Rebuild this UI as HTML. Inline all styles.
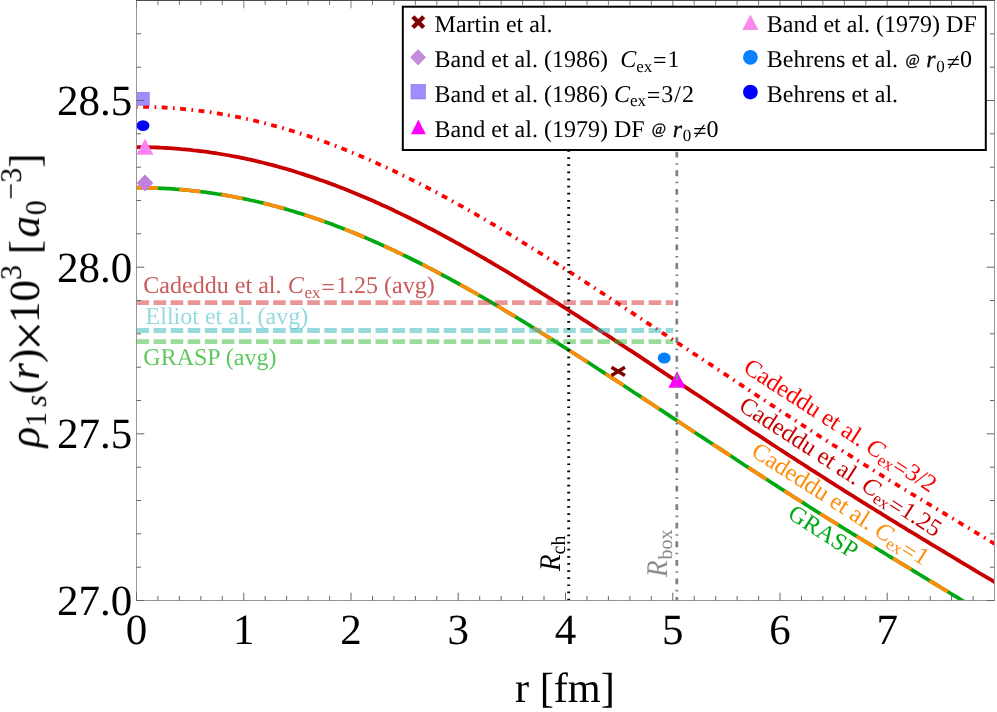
<!DOCTYPE html>
<html><head><meta charset="utf-8"><title>plot</title>
<style>
html,body{margin:0;padding:0;background:#fff;}
svg{display:block;}
text{font-family:"Liberation Serif",serif;text-rendering:geometricPrecision;}
.it{font-style:italic;}
</style></head><body>
<svg width="997" height="712" viewBox="0 0 997 712">
<rect x="0" y="0" width="997" height="712" fill="#fff"/>
<g style="will-change:transform">
<defs><clipPath id="cp"><rect x="136.5" y="0.5" width="858" height="600"/></clipPath></defs>

<text x="143.3" y="293.4" font-size="24.05" fill="#C85A5A">Cadeddu et al. <tspan class="it" dx="0.2">C</tspan><tspan font-size="17" dy="4.5" dx="0.6">ex</tspan><tspan dy="-2.9" dx="0.8">=</tspan><tspan dy="-1.6" dx="1.2">1.25</tspan><tspan dx="0"> (avg)</tspan></text>
<text x="145.6" y="323.6" font-size="24" fill="#96DADE">Elliot et al. (avg)</text>
<text x="143.3" y="365.2" font-size="24" fill="#5FC85F">GRASP (avg)</text>
<g clip-path="url(#cp)" fill="none">
<path d="M136.5 187.7 L139.5 187.7 L142.5 187.7 L145.5 187.8 L148.5 187.8 L151.5 187.9 L154.5 188.0 L157.5 188.1 L160.5 188.3 L163.5 188.4 L166.5 188.6 L169.5 188.7 L172.5 188.9 L175.5 189.2 L178.5 189.4 L181.5 189.6 L184.5 189.9 L187.5 190.2 L190.5 190.5 L193.5 190.8 L196.5 191.1 L199.5 191.5 L202.5 191.9 L205.5 192.2 L208.5 192.7 L211.5 193.1 L214.5 193.5 L217.5 194.0 L220.5 194.4 L223.5 194.9 L226.5 195.4 L229.5 196.0 L232.5 196.5 L235.5 197.1 L238.5 197.7 L241.5 198.3 L244.5 198.9 L247.5 199.5 L250.5 200.2 L253.5 200.8 L256.5 201.5 L259.5 202.2 L262.5 202.9 L265.5 203.7 L268.5 204.4 L271.5 205.2 L274.5 206.0 L277.5 206.8 L280.5 207.6 L283.5 208.4 L286.5 209.3 L289.5 210.2 L292.5 211.0 L295.5 211.9 L298.5 212.9 L301.5 213.8 L304.5 214.8 L307.5 215.7 L310.5 216.7 L313.5 217.7 L316.5 218.8 L319.5 219.8 L322.5 220.9 L325.5 221.9 L328.5 223.0 L331.5 224.1 L334.5 225.3 L337.5 226.4 L340.5 227.5 L343.5 228.7 L346.5 229.9 L349.5 231.1 L352.5 232.3 L355.5 233.5 L358.5 234.8 L361.5 236.0 L364.5 237.3 L367.5 238.6 L370.5 239.9 L373.5 241.2 L376.5 242.5 L379.5 243.9 L382.5 245.2 L385.5 246.6 L388.5 248.0 L391.5 249.4 L394.5 250.8 L397.5 252.2 L400.5 253.6 L403.5 255.1 L406.5 256.5 L409.5 258.0 L412.5 259.5 L415.5 261.0 L418.5 262.5 L421.5 264.0 L424.5 265.5 L427.5 267.1 L430.5 268.6 L433.5 270.2 L436.5 271.8 L439.5 273.4 L442.5 275.0 L445.5 276.6 L448.5 278.2 L451.5 279.9 L454.5 281.5 L457.5 283.1 L460.5 284.8 L463.5 286.5 L466.5 288.1 L469.5 289.8 L472.5 291.5 L475.5 293.2 L478.5 295.0 L481.5 296.7 L484.5 298.4 L487.5 300.2 L490.5 301.9 L493.5 303.7 L496.5 305.4 L499.5 307.2 L502.5 309.0 L505.5 310.8 L508.5 312.6 L511.5 314.4 L514.5 316.2 L517.5 318.0 L520.5 319.9 L523.5 321.7 L526.5 323.5 L529.5 325.4 L532.5 327.3 L535.5 329.1 L538.5 331.0 L541.5 332.9 L544.5 334.7 L547.5 336.6 L550.5 338.5 L553.5 340.4 L556.5 342.3 L559.5 344.2 L562.5 346.1 L565.5 348.0 L568.5 349.9 L571.5 351.8 L574.5 353.7 L577.5 355.6 L580.5 357.5 L583.5 359.5 L586.5 361.4 L589.5 363.3 L592.5 365.3 L595.5 367.2 L598.5 369.2 L601.5 371.1 L604.5 373.1 L607.5 375.0 L610.5 377.0 L613.5 378.9 L616.5 380.9 L619.5 382.8 L622.5 384.8 L625.5 386.8 L628.5 388.7 L631.5 390.7 L634.5 392.7 L637.5 394.6 L640.5 396.6 L643.5 398.6 L646.5 400.6 L649.5 402.5 L652.5 404.5 L655.5 406.5 L658.5 408.5 L661.5 410.4 L664.5 412.4 L667.5 414.4 L670.5 416.4 L673.5 418.4 L676.5 420.3 L679.5 422.3 L682.5 424.3 L685.5 426.3 L688.5 428.2 L691.5 430.2 L694.5 432.2 L697.5 434.2 L700.5 436.1 L703.5 438.1 L706.5 440.1 L709.5 442.0 L712.5 444.0 L715.5 446.0 L718.5 447.9 L721.5 449.9 L724.5 451.9 L727.5 453.9 L730.5 455.8 L733.5 457.8 L736.5 459.8 L739.5 461.7 L742.5 463.7 L745.5 465.7 L748.5 467.6 L751.5 469.6 L754.5 471.5 L757.5 473.5 L760.5 475.4 L763.5 477.4 L766.5 479.3 L769.5 481.3 L772.5 483.2 L775.5 485.1 L778.5 487.1 L781.5 489.0 L784.5 490.9 L787.5 492.9 L790.5 494.8 L793.5 496.7 L796.5 498.6 L799.5 500.5 L802.5 502.4 L805.5 504.4 L808.5 506.3 L811.5 508.2 L814.5 510.1 L817.5 512.0 L820.5 513.9 L823.5 515.7 L826.5 517.6 L829.5 519.5 L832.5 521.3 L835.5 523.2 L838.5 525.0 L841.5 526.9 L844.5 528.8 L847.5 530.6 L850.5 532.5 L853.5 534.3 L856.5 536.1 L859.5 538.0 L862.5 539.8 L865.5 541.7 L868.5 543.5 L871.5 545.3 L874.5 547.2 L877.5 549.0 L880.5 550.8 L883.5 552.6 L886.5 554.5 L889.5 556.3 L892.5 558.1 L895.5 559.9 L898.5 561.8 L901.5 563.6 L904.5 565.4 L907.5 567.2 L910.5 569.0 L913.5 570.9 L916.5 572.7 L919.5 574.5 L922.5 576.3 L925.5 578.1 L928.5 580.0 L931.5 581.8 L934.5 583.6 L937.5 585.4 L940.5 587.2 L943.5 589.1 L946.5 590.9 L949.5 592.7 L952.5 594.6 L955.5 596.4 L958.5 598.2 L961.5 600.0 L964.5 601.9 L967.5 603.7 L970.0 605.3" stroke="#00A814" stroke-width="3.7"/>
<path d="M136.5 187.7 L139.5 187.7 L142.5 187.7 L145.5 187.8 L148.5 187.8 L151.5 187.9 L154.5 188.0 L157.5 188.1 L160.5 188.3 L163.5 188.4 L166.5 188.6 L169.5 188.7 L172.5 188.9 L175.5 189.2 L178.5 189.4 L181.5 189.6 L184.5 189.9 L187.5 190.2 L190.5 190.5 L193.5 190.8 L196.5 191.1 L199.5 191.5 L202.5 191.9 L205.5 192.2 L208.5 192.7 L211.5 193.1 L214.5 193.5 L217.5 194.0 L220.5 194.4 L223.5 194.9 L226.5 195.4 L229.5 196.0 L232.5 196.5 L235.5 197.1 L238.5 197.7 L241.5 198.3 L244.5 198.9 L247.5 199.5 L250.5 200.2 L253.5 200.8 L256.5 201.5 L259.5 202.2 L262.5 202.9 L265.5 203.7 L268.5 204.4 L271.5 205.2 L274.5 206.0 L277.5 206.8 L280.5 207.6 L283.5 208.4 L286.5 209.3 L289.5 210.2 L292.5 211.0 L295.5 211.9 L298.5 212.9 L301.5 213.8 L304.5 214.8 L307.5 215.7 L310.5 216.7 L313.5 217.7 L316.5 218.8 L319.5 219.8 L322.5 220.9 L325.5 221.9 L328.5 223.0 L331.5 224.1 L334.5 225.3 L337.5 226.4 L340.5 227.5 L343.5 228.7 L346.5 229.9 L349.5 231.1 L352.5 232.3 L355.5 233.5 L358.5 234.8 L361.5 236.0 L364.5 237.3 L367.5 238.6 L370.5 239.9 L373.5 241.2 L376.5 242.5 L379.5 243.9 L382.5 245.2 L385.5 246.6 L388.5 248.0 L391.5 249.4 L394.5 250.8 L397.5 252.2 L400.5 253.6 L403.5 255.1 L406.5 256.5 L409.5 258.0 L412.5 259.5 L415.5 261.0 L418.5 262.5 L421.5 264.0 L424.5 265.5 L427.5 267.1 L430.5 268.6 L433.5 270.2 L436.5 271.8 L439.5 273.4 L442.5 275.0 L445.5 276.6 L448.5 278.2 L451.5 279.9 L454.5 281.5 L457.5 283.1 L460.5 284.8 L463.5 286.5 L466.5 288.1 L469.5 289.8 L472.5 291.5 L475.5 293.2 L478.5 295.0 L481.5 296.7 L484.5 298.4 L487.5 300.2 L490.5 301.9 L493.5 303.7 L496.5 305.4 L499.5 307.2 L502.5 309.0 L505.5 310.8 L508.5 312.6 L511.5 314.4 L514.5 316.2 L517.5 318.0 L520.5 319.9 L523.5 321.7 L526.5 323.5 L529.5 325.4 L532.5 327.3 L535.5 329.1 L538.5 331.0 L541.5 332.9 L544.5 334.7 L547.5 336.6 L550.5 338.5 L553.5 340.4 L556.5 342.3 L559.5 344.2 L562.5 346.1 L565.5 348.0 L568.5 349.9 L571.5 351.8 L574.5 353.7 L577.5 355.6 L580.5 357.5 L583.5 359.5 L586.5 361.4 L589.5 363.3 L592.5 365.3 L595.5 367.2 L598.5 369.2 L601.5 371.1 L604.5 373.1 L607.5 375.0 L610.5 377.0 L613.5 378.9 L616.5 380.9 L619.5 382.8 L622.5 384.8 L625.5 386.8 L628.5 388.7 L631.5 390.7 L634.5 392.7 L637.5 394.6 L640.5 396.6 L643.5 398.6 L646.5 400.6 L649.5 402.5 L652.5 404.5 L655.5 406.5 L658.5 408.5 L661.5 410.4 L664.5 412.4 L667.5 414.4 L670.5 416.4 L673.5 418.4 L676.5 420.3 L679.5 422.3 L682.5 424.3 L685.5 426.3 L688.5 428.2 L691.5 430.2 L694.5 432.2 L697.5 434.2 L700.5 436.1 L703.5 438.1 L706.5 440.1 L709.5 442.0 L712.5 444.0 L715.5 446.0 L718.5 447.9 L721.5 449.9 L724.5 451.9 L727.5 453.9 L730.5 455.8 L733.5 457.8 L736.5 459.8 L739.5 461.7 L742.5 463.7 L745.5 465.7 L748.5 467.6 L751.5 469.6 L754.5 471.5 L757.5 473.5 L760.5 475.4 L763.5 477.4 L766.5 479.3 L769.5 481.3 L772.5 483.2 L775.5 485.1 L778.5 487.1 L781.5 489.0 L784.5 490.9 L787.5 492.9 L790.5 494.8 L793.5 496.7 L796.5 498.6 L799.5 500.5 L802.5 502.4 L805.5 504.4 L808.5 506.3 L811.5 508.2 L814.5 510.1 L817.5 512.0 L820.5 513.9 L823.5 515.7 L826.5 517.6 L829.5 519.5 L832.5 521.3 L835.5 523.2 L838.5 525.0 L841.5 526.9 L844.5 528.8 L847.5 530.6 L850.5 532.5 L853.5 534.3 L856.5 536.1 L859.5 538.0 L862.5 539.8 L865.5 541.7 L868.5 543.5 L871.5 545.3 L874.5 547.2 L877.5 549.0 L880.5 550.8 L883.5 552.6 L886.5 554.5 L889.5 556.3 L892.5 558.1 L895.5 559.9 L898.5 561.8 L901.5 563.6 L904.5 565.4 L907.5 567.2 L910.5 569.0 L913.5 570.9 L916.5 572.7 L919.5 574.5 L922.5 576.3 L925.5 578.1 L928.5 580.0 L931.5 581.8 L934.5 583.6 L937.5 585.4 L940.5 587.2 L943.5 589.1 L946.5 590.9 L949.5 592.7 L952.5 594.6 L955.5 596.4 L958.5 598.2 L961.5 600.0 L964.5 601.9 L967.5 603.7 L970.0 605.3" stroke="#FF8C0A" stroke-width="3.7" stroke-dasharray="21.35 21.35"/>
<path d="M136.5 147.1 L139.5 147.1 L142.5 147.1 L145.5 147.2 L148.5 147.2 L151.5 147.3 L154.5 147.4 L157.5 147.5 L160.5 147.7 L163.5 147.8 L166.5 148.0 L169.5 148.2 L172.5 148.4 L175.5 148.6 L178.5 148.8 L181.5 149.1 L184.5 149.3 L187.5 149.6 L190.5 149.9 L193.5 150.3 L196.5 150.6 L199.5 151.0 L202.5 151.3 L205.5 151.7 L208.5 152.1 L211.5 152.6 L214.5 153.0 L217.5 153.5 L220.5 154.0 L223.5 154.5 L226.5 155.0 L229.5 155.5 L232.5 156.1 L235.5 156.6 L238.5 157.2 L241.5 157.8 L244.5 158.4 L247.5 159.1 L250.5 159.7 L253.5 160.4 L256.5 161.1 L259.5 161.8 L262.5 162.5 L265.5 163.3 L268.5 164.1 L271.5 164.8 L274.5 165.6 L277.5 166.5 L280.5 167.3 L283.5 168.2 L286.5 169.0 L289.5 169.9 L292.5 170.8 L295.5 171.7 L298.5 172.7 L301.5 173.6 L304.5 174.6 L307.5 175.6 L310.5 176.6 L313.5 177.6 L316.5 178.6 L319.5 179.7 L322.5 180.7 L325.5 181.8 L328.5 182.9 L331.5 184.0 L334.5 185.1 L337.5 186.3 L340.5 187.4 L343.5 188.6 L346.5 189.8 L349.5 191.0 L352.5 192.2 L355.5 193.4 L358.5 194.7 L361.5 195.9 L364.5 197.2 L367.5 198.5 L370.5 199.8 L373.5 201.1 L376.5 202.5 L379.5 203.8 L382.5 205.2 L385.5 206.5 L388.5 207.9 L391.5 209.3 L394.5 210.8 L397.5 212.2 L400.5 213.6 L403.5 215.1 L406.5 216.5 L409.5 218.0 L412.5 219.5 L415.5 221.0 L418.5 222.5 L421.5 224.1 L424.5 225.6 L427.5 227.2 L430.5 228.7 L433.5 230.3 L436.5 231.9 L439.5 233.5 L442.5 235.1 L445.5 236.7 L448.5 238.3 L451.5 240.0 L454.5 241.6 L457.5 243.3 L460.5 244.9 L463.5 246.6 L466.5 248.3 L469.5 250.0 L472.5 251.7 L475.5 253.4 L478.5 255.1 L481.5 256.8 L484.5 258.5 L487.5 260.3 L490.5 262.0 L493.5 263.8 L496.5 265.6 L499.5 267.4 L502.5 269.1 L505.5 270.9 L508.5 272.7 L511.5 274.5 L514.5 276.4 L517.5 278.2 L520.5 280.0 L523.5 281.9 L526.5 283.7 L529.5 285.6 L532.5 287.4 L535.5 289.3 L538.5 291.2 L541.5 293.1 L544.5 294.9 L547.5 296.8 L550.5 298.7 L553.5 300.6 L556.5 302.5 L559.5 304.4 L562.5 306.3 L565.5 308.2 L568.5 310.1 L571.5 312.1 L574.5 314.0 L577.5 315.9 L580.5 317.8 L583.5 319.8 L586.5 321.7 L589.5 323.7 L592.5 325.6 L595.5 327.6 L598.5 329.5 L601.5 331.5 L604.5 333.5 L607.5 335.4 L610.5 337.4 L613.5 339.4 L616.5 341.3 L619.5 343.3 L622.5 345.3 L625.5 347.3 L628.5 349.3 L631.5 351.2 L634.5 353.2 L637.5 355.2 L640.5 357.2 L643.5 359.2 L646.5 361.2 L649.5 363.2 L652.5 365.2 L655.5 367.2 L658.5 369.2 L661.5 371.1 L664.5 373.1 L667.5 375.1 L670.5 377.1 L673.5 379.1 L676.5 381.1 L679.5 383.1 L682.5 385.1 L685.5 387.1 L688.5 389.1 L691.5 391.1 L694.5 393.1 L697.5 395.0 L700.5 397.0 L703.5 399.0 L706.5 401.0 L709.5 403.0 L712.5 405.0 L715.5 407.0 L718.5 408.9 L721.5 410.9 L724.5 412.9 L727.5 414.9 L730.5 416.9 L733.5 418.9 L736.5 420.9 L739.5 422.9 L742.5 424.9 L745.5 426.8 L748.5 428.8 L751.5 430.8 L754.5 432.8 L757.5 434.7 L760.5 436.7 L763.5 438.7 L766.5 440.7 L769.5 442.6 L772.5 444.6 L775.5 446.5 L778.5 448.5 L781.5 450.4 L784.5 452.4 L787.5 454.3 L790.5 456.3 L793.5 458.2 L796.5 460.2 L799.5 462.1 L802.5 464.0 L805.5 465.9 L808.5 467.9 L811.5 469.8 L814.5 471.7 L817.5 473.6 L820.5 475.5 L823.5 477.4 L826.5 479.4 L829.5 481.3 L832.5 483.2 L835.5 485.1 L838.5 487.0 L841.5 488.9 L844.5 490.8 L847.5 492.7 L850.5 494.5 L853.5 496.4 L856.5 498.3 L859.5 500.2 L862.5 502.1 L865.5 503.9 L868.5 505.8 L871.5 507.6 L874.5 509.5 L877.5 511.4 L880.5 513.2 L883.5 515.1 L886.5 516.9 L889.5 518.8 L892.5 520.6 L895.5 522.4 L898.5 524.3 L901.5 526.1 L904.5 527.9 L907.5 529.8 L910.5 531.6 L913.5 533.4 L916.5 535.2 L919.5 537.0 L922.5 538.9 L925.5 540.7 L928.5 542.5 L931.5 544.3 L934.5 546.1 L937.5 547.9 L940.5 549.7 L943.5 551.5 L946.5 553.3 L949.5 555.1 L952.5 556.9 L955.5 558.7 L958.5 560.5 L961.5 562.3 L964.5 564.1 L967.5 565.9 L970.5 567.7 L973.5 569.5 L976.5 571.3 L979.5 573.1 L982.5 574.8 L985.5 576.6 L988.5 578.4 L991.5 580.2 L994.5 582.0" stroke="#C80000" stroke-width="3.8"/>
<path d="M136.5 106.8 L139.5 106.8 L142.5 106.8 L145.5 106.9 L148.5 106.9 L151.5 107.0 L154.5 107.1 L157.5 107.2 L160.5 107.4 L163.5 107.5 L166.5 107.7 L169.5 107.9 L172.5 108.1 L175.5 108.3 L178.5 108.6 L181.5 108.8 L184.5 109.1 L187.5 109.4 L190.5 109.7 L193.5 110.1 L196.5 110.4 L199.5 110.8 L202.5 111.2 L205.5 111.6 L208.5 112.0 L211.5 112.4 L214.5 112.9 L217.5 113.4 L220.5 113.9 L223.5 114.4 L226.5 114.9 L229.5 115.5 L232.5 116.0 L235.5 116.6 L238.5 117.2 L241.5 117.8 L244.5 118.5 L247.5 119.1 L250.5 119.8 L253.5 120.5 L256.5 121.2 L259.5 121.9 L262.5 122.7 L265.5 123.4 L268.5 124.2 L271.5 125.0 L274.5 125.8 L277.5 126.6 L280.5 127.5 L283.5 128.3 L286.5 129.2 L289.5 130.1 L292.5 131.0 L295.5 132.0 L298.5 132.9 L301.5 133.9 L304.5 134.8 L307.5 135.8 L310.5 136.8 L313.5 137.9 L316.5 138.9 L319.5 140.0 L322.5 141.1 L325.5 142.1 L328.5 143.3 L331.5 144.4 L334.5 145.5 L337.5 146.7 L340.5 147.8 L343.5 149.0 L346.5 150.2 L349.5 151.4 L352.5 152.7 L355.5 153.9 L358.5 155.2 L361.5 156.4 L364.5 157.7 L367.5 159.0 L370.5 160.3 L373.5 161.7 L376.5 163.0 L379.5 164.4 L382.5 165.7 L385.5 167.1 L388.5 168.5 L391.5 169.9 L394.5 171.3 L397.5 172.8 L400.5 174.2 L403.5 175.7 L406.5 177.2 L409.5 178.6 L412.5 180.1 L415.5 181.6 L418.5 183.2 L421.5 184.7 L424.5 186.2 L427.5 187.8 L430.5 189.4 L433.5 190.9 L436.5 192.5 L439.5 194.1 L442.5 195.8 L445.5 197.4 L448.5 199.0 L451.5 200.7 L454.5 202.3 L457.5 204.0 L460.5 205.6 L463.5 207.3 L466.5 209.0 L469.5 210.7 L472.5 212.4 L475.5 214.1 L478.5 215.9 L481.5 217.6 L484.5 219.3 L487.5 221.1 L490.5 222.9 L493.5 224.6 L496.5 226.4 L499.5 228.2 L502.5 230.0 L505.5 231.8 L508.5 233.6 L511.5 235.4 L514.5 237.2 L517.5 239.1 L520.5 240.9 L523.5 242.8 L526.5 244.6 L529.5 246.5 L532.5 248.3 L535.5 250.2 L538.5 252.1 L541.5 254.0 L544.5 255.9 L547.5 257.8 L550.5 259.7 L553.5 261.6 L556.5 263.5 L559.5 265.4 L562.5 267.3 L565.5 269.2 L568.5 271.1 L571.5 273.1 L574.5 275.0 L577.5 276.9 L580.5 278.9 L583.5 280.8 L586.5 282.8 L589.5 284.7 L592.5 286.7 L595.5 288.6 L598.5 290.6 L601.5 292.6 L604.5 294.5 L607.5 296.5 L610.5 298.5 L613.5 300.5 L616.5 302.4 L619.5 304.4 L622.5 306.4 L625.5 308.4 L628.5 310.4 L631.5 312.4 L634.5 314.4 L637.5 316.4 L640.5 318.3 L643.5 320.3 L646.5 322.3 L649.5 324.3 L652.5 326.3 L655.5 328.3 L658.5 330.3 L661.5 332.3 L664.5 334.2 L667.5 336.2 L670.5 338.2 L673.5 340.2 L676.5 342.2 L679.5 344.1 L682.5 346.1 L685.5 348.1 L688.5 350.1 L691.5 352.1 L694.5 354.1 L697.5 356.0 L700.5 358.0 L703.5 360.0 L706.5 362.0 L709.5 363.9 L712.5 365.9 L715.5 367.9 L718.5 369.9 L721.5 371.8 L724.5 373.8 L727.5 375.8 L730.5 377.8 L733.5 379.8 L736.5 381.8 L739.5 383.8 L742.5 385.8 L745.5 387.8 L748.5 389.8 L751.5 391.8 L754.5 393.8 L757.5 395.8 L760.5 397.7 L763.5 399.7 L766.5 401.7 L769.5 403.7 L772.5 405.6 L775.5 407.6 L778.5 409.6 L781.5 411.5 L784.5 413.5 L787.5 415.4 L790.5 417.4 L793.5 419.3 L796.5 421.3 L799.5 423.2 L802.5 425.2 L805.5 427.1 L808.5 429.1 L811.5 431.0 L814.5 432.9 L817.5 434.9 L820.5 436.8 L823.5 438.7 L826.5 440.6 L829.5 442.6 L832.5 444.5 L835.5 446.4 L838.5 448.3 L841.5 450.2 L844.5 452.1 L847.5 454.0 L850.5 455.9 L853.5 457.8 L856.5 459.7 L859.5 461.6 L862.5 463.5 L865.5 465.4 L868.5 467.2 L871.5 469.1 L874.5 471.0 L877.5 472.9 L880.5 474.7 L883.5 476.6 L886.5 478.4 L889.5 480.3 L892.5 482.1 L895.5 483.9 L898.5 485.8 L901.5 487.6 L904.5 489.4 L907.5 491.2 L910.5 493.1 L913.5 494.9 L916.5 496.7 L919.5 498.5 L922.5 500.3 L925.5 502.1 L928.5 504.0 L931.5 505.8 L934.5 507.6 L937.5 509.4 L940.5 511.2 L943.5 513.0 L946.5 514.8 L949.5 516.6 L952.5 518.4 L955.5 520.2 L958.5 522.0 L961.5 523.9 L964.5 525.7 L967.5 527.5 L970.5 529.3 L973.5 531.1 L976.5 532.9 L979.5 534.7 L982.5 536.5 L985.5 538.3 L988.5 540.1 L991.5 542.0 L994.5 543.8" stroke="#FF0000" stroke-width="3.8" stroke-dasharray="1.7 5.46 5.9 5.46" stroke-dashoffset="0.5"/>
<line x1="136.5" y1="302.6" x2="673.2" y2="302.6" stroke="#D72D2D" stroke-opacity="0.5" stroke-width="4.9" stroke-dasharray="12.6 4.47"/>
<line x1="136.5" y1="330.5" x2="673.2" y2="330.5" stroke="#2DB5B9" stroke-opacity="0.5" stroke-width="4.9" stroke-dasharray="12.6 4.47"/>
<line x1="136.5" y1="341.6" x2="673.2" y2="341.6" stroke="#35B935" stroke-opacity="0.5" stroke-width="4.9" stroke-dasharray="12.6 4.47"/>
<line x1="568.7" y1="150.1" x2="568.7" y2="600.5" stroke="#000" stroke-width="2.9" stroke-dasharray="1.7 5.42"/>
</g>
<rect x="136.4" y="92.2" width="13" height="13.2" fill="#9A80FF" fill-opacity="0.92" stroke="#8A74E0" stroke-width="0.5"/>
<ellipse cx="143" cy="125.6" rx="6.4" ry="5.4" fill="#0000FF"/>
<path d="M145 138.8 L153.5 154.8 L136.5 154.8 Z" fill="#FF82F5"/>
<path d="M145 174.4 L153.3 183 L145 191.6 L136.7 183 Z" fill="#C280DC"/>
<g transform="translate(618.2,371.4)" stroke="#800000" stroke-width="3.4"><path d="M-6.7 -4.1 L6.7 4.1 M6.7 -4.1 L-6.7 4.1"/></g>
<ellipse cx="664.2" cy="358.1" rx="6.5" ry="5.5" fill="#0080FF"/>
<path d="M677 371.2 L685.6 387.8 L668.4 387.8 Z" fill="#FF00FF"/>
<line x1="676.8" y1="149.8" x2="676.8" y2="600.5" stroke="#808080" stroke-width="2.7" stroke-dasharray="5.8 5.57 1.6 5.58" stroke-dashoffset="-2"/>
<rect x="136.5" y="0.5" width="858" height="600" stroke="#969696" stroke-width="1" fill="none"/>
<g stroke="#666666" stroke-width="1" fill="none">
<path d="M136.5 600.5 v-7.8 M157.9 600.5 v-4.6 M179.4 600.5 v-4.6 M200.9 600.5 v-4.6 M222.3 600.5 v-4.6 M243.8 600.5 v-7.8 M265.2 600.5 v-4.6 M286.6 600.5 v-4.6 M308.1 600.5 v-4.6 M329.6 600.5 v-4.6 M351.0 600.5 v-7.8 M372.5 600.5 v-4.6 M393.9 600.5 v-4.6 M415.4 600.5 v-4.6 M436.8 600.5 v-4.6 M458.2 600.5 v-7.8 M479.7 600.5 v-4.6 M501.2 600.5 v-4.6 M522.6 600.5 v-4.6 M544.0 600.5 v-4.6 M565.5 600.5 v-7.8 M587.0 600.5 v-4.6 M608.4 600.5 v-4.6 M629.9 600.5 v-4.6 M651.3 600.5 v-4.6 M672.8 600.5 v-7.8 M694.2 600.5 v-4.6 M715.7 600.5 v-4.6 M737.1 600.5 v-4.6 M758.6 600.5 v-4.6 M780.0 600.5 v-7.8 M801.5 600.5 v-4.6 M822.9 600.5 v-4.6 M844.4 600.5 v-4.6 M865.8 600.5 v-4.6 M887.2 600.5 v-7.8 M908.7 600.5 v-4.6 M930.2 600.5 v-4.6 M951.6 600.5 v-4.6 M973.1 600.5 v-4.6 M136.5 600.5 h7.8 M994.5 600.5 h-7.8 M136.5 567.2 h4.6 M994.5 567.2 h-4.6 M136.5 533.8 h4.6 M994.5 533.8 h-4.6 M136.5 500.5 h4.6 M994.5 500.5 h-4.6 M136.5 467.2 h4.6 M994.5 467.2 h-4.6 M136.5 433.8 h7.8 M994.5 433.8 h-7.8 M136.5 400.5 h4.6 M994.5 400.5 h-4.6 M136.5 367.2 h4.6 M994.5 367.2 h-4.6 M136.5 333.8 h4.6 M994.5 333.8 h-4.6 M136.5 300.5 h4.6 M994.5 300.5 h-4.6 M136.5 267.2 h7.8 M994.5 267.2 h-7.8 M136.5 233.8 h4.6 M994.5 233.8 h-4.6 M136.5 200.5 h4.6 M994.5 200.5 h-4.6 M136.5 167.2 h4.6 M994.5 167.2 h-4.6 M136.5 133.8 h4.6 M994.5 133.8 h-4.6 M136.5 100.5 h7.8 M994.5 100.5 h-7.8 M136.5 67.2 h4.6 M994.5 67.2 h-4.6 M136.5 33.8 h4.6 M994.5 33.8 h-4.6"/>
<path d="M136.5 0.5 v7.8 M157.9 0.5 v4.6 M179.4 0.5 v4.6 M200.9 0.5 v4.6 M222.3 0.5 v4.6 M243.8 0.5 v7.8 M265.2 0.5 v4.6 M286.6 0.5 v4.6 M308.1 0.5 v4.6 M329.6 0.5 v4.6 M351.0 0.5 v7.8 M372.5 0.5 v4.6 M393.9 0.5 v4.6 M415.4 0.5 v4.6 M436.8 0.5 v4.6 M458.2 0.5 v7.8 M479.7 0.5 v4.6 M501.2 0.5 v4.6 M522.6 0.5 v4.6 M544.0 0.5 v4.6 M565.5 0.5 v7.8 M587.0 0.5 v4.6 M608.4 0.5 v4.6 M629.9 0.5 v4.6 M651.3 0.5 v4.6 M672.8 0.5 v7.8 M694.2 0.5 v4.6 M715.7 0.5 v4.6 M737.1 0.5 v4.6 M758.6 0.5 v4.6 M780.0 0.5 v7.8 M801.5 0.5 v4.6 M822.9 0.5 v4.6 M844.4 0.5 v4.6 M865.8 0.5 v4.6 M887.2 0.5 v7.8 M908.7 0.5 v4.6 M930.2 0.5 v4.6 M951.6 0.5 v4.6 M973.1 0.5 v4.6" stroke="#7c7c7c"/>
<path d="M136 0.5 H995" stroke="#4c4c4c"/>
</g>
<text x="132.2" y="615.1" font-size="43" text-anchor="end">27.0</text>
<text x="132.2" y="448.4" font-size="43" text-anchor="end">27.5</text>
<text x="132.2" y="281.8" font-size="43" text-anchor="end">28.0</text>
<text x="132.2" y="115.1" font-size="43" text-anchor="end">28.5</text>
<text x="136.5" y="643.8" font-size="43" text-anchor="middle">0</text>
<text x="243.8" y="643.8" font-size="43" text-anchor="middle">1</text>
<text x="351.0" y="643.8" font-size="43" text-anchor="middle">2</text>
<text x="458.2" y="643.8" font-size="43" text-anchor="middle">3</text>
<text x="565.5" y="643.8" font-size="43" text-anchor="middle">4</text>
<text x="672.8" y="643.8" font-size="43" text-anchor="middle">5</text>
<text x="780.0" y="643.8" font-size="43" text-anchor="middle">6</text>
<text x="887.2" y="643.8" font-size="43" text-anchor="middle">7</text>
<text x="515" y="702.3" font-size="42.3">r [fm]</text>
<text transform="translate(38.9,447.5) rotate(-90)" font-size="43"><tspan class="it">ρ</tspan><tspan font-size="30" dy="7">1</tspan><tspan font-size="30" class="it" dx="5">s</tspan><tspan dy="-7" dx="1">(</tspan><tspan class="it">r</tspan>)<tspan font-size="53" dy="7.5" dx="-2">×</tspan><tspan dy="-7.5" dx="-2">1</tspan>0<tspan font-size="30" dy="-18">3</tspan><tspan dy="18"> [</tspan><tspan class="it" dx="2.4">a</tspan><tspan font-size="30" dy="7" dx="0.6">0</tspan><tspan font-size="30" dy="-25" dx="0.6">−3</tspan><tspan dy="18" dx="0">]</tspan></text>
<g transform="translate(560.2,571.1) rotate(-90)"><text class="it" font-size="30" transform="scale(0.9,1)">R</text><text x="16.7" y="4.5" font-size="20">ch</text></g>
<g transform="translate(667,577.1) rotate(-90)" fill="#8c8c8c"><text class="it" font-size="30" transform="scale(0.9,1)">R</text><text x="17.6" y="5" font-size="20">box</text></g>
<text transform="translate(741.9,370.9) rotate(33.0)" font-size="24.4" fill="#FF0000">Cadeddu et al. <tspan class="it">C</tspan><tspan font-size="17" dy="4.2">ex</tspan><tspan dy="-1.5" dx="0.3">=</tspan><tspan dx="0.3" dy="-2.7">3/2</tspan></text>
<text transform="translate(737.4,409.2) rotate(33.0)" font-size="24.4" fill="#C80000">Cadeddu et al. <tspan class="it">C</tspan><tspan font-size="17" dy="4.2">ex</tspan><tspan dy="-1.5" dx="0.3">=</tspan><tspan dx="0.3" dy="-2.7">1.25</tspan></text>
<text transform="translate(750.0,455.1) rotate(32.7)" font-size="24.4" fill="#FF8C0A">Cadeddu et al. <tspan class="it">C</tspan><tspan font-size="17" dy="4.2">ex</tspan><tspan dy="-1.5" dx="0.3">=</tspan><tspan dx="0.3" dy="-2.7">1</tspan></text>
<text transform="translate(786.6,517.3) rotate(32.7)" font-size="24" fill="#00A814">GRASP</text>
</g>
<rect x="402.8" y="6.7" width="583" height="143.3" fill="#fff" stroke="#000" stroke-width="2"/>
<g style="will-change:transform">
<g stroke="#800000" stroke-width="4.4"><path d="M412.8 16.7 L423.7 27.5 M423.7 16.7 L412.8 27.5"/></g>
<path d="M418.1 49.7 L425.5 57.3 L418.1 64.9 L410.7 57.3 Z" fill="#C68ADF" stroke="#a070c0" stroke-width="0.6"/>
<rect x="411" y="84.4" width="14.6" height="14.6" fill="#A08CFF" stroke="#8878e0" stroke-width="0.6"/>
<path d="M418.4 119.4 L425.8 134.2 L411 134.2 Z" fill="#FF00FF"/>
<path d="M750.4 15.3 L758 29.7 L742.8 29.7 Z" fill="#FF86F0" stroke="#c878c0" stroke-width="0.4"/>
<circle cx="750.4" cy="57.3" r="7.4" fill="#0A80FF"/>
<circle cx="750.4" cy="92.1" r="7.4" fill="#0000FF"/>
<text x="434.6" y="32.1" font-size="24">Martin et al.</text>
<text x="434.6" y="66.9" font-size="24">Band et al. (1986) <tspan class="it" dx="6.3">C</tspan><tspan font-size="17" dy="4.6">ex</tspan><tspan dy="-3.1999999999999997" dx="0.8">=</tspan><tspan dx="1" dy="-1.4">1</tspan></text>
<text x="434.6" y="101.7" font-size="24">Band et al. (1986) <tspan class="it" dx="0">C</tspan><tspan font-size="17" dy="4.6">ex</tspan><tspan dy="-3.1999999999999997" dx="0.8">=</tspan><tspan dx="1" dy="-1.4">3</tspan><tspan dx="1">/</tspan><tspan dx="1">2</tspan></text>
<text x="434.6" y="136.5" font-size="24">Band et al. (1979) DF <tspan font-size="15.6" dy="-2.2" dx="1.3" stroke="#000" stroke-width="0.35">@</tspan><tspan dy="2.2" dx="0"> </tspan><tspan class="it" dx="0.6" stroke="#000" stroke-width="0.25">r</tspan><tspan font-size="17" dy="4.6" dx="0.6">0</tspan><tspan dy="-1.7" dx="2.0">≠</tspan><tspan dx="0" dy="-2.9">0</tspan></text>
<text x="766.8" y="32.1" font-size="24">Band et al. (1979) DF</text>
<text x="766.8" y="66.9" font-size="24">Behrens et al. <tspan font-size="15.6" dy="-2.2" dx="1.3" stroke="#000" stroke-width="0.35">@</tspan><tspan dy="2.2" dx="0"> </tspan><tspan class="it" dx="0.6" stroke="#000" stroke-width="0.25">r</tspan><tspan font-size="17" dy="4.6" dx="0.6">0</tspan><tspan dy="-1.7" dx="2.0">≠</tspan><tspan dx="0" dy="-2.9">0</tspan></text>
<text x="766.8" y="101.7" font-size="24">Behrens et al.</text>
</g></svg></body></html>
